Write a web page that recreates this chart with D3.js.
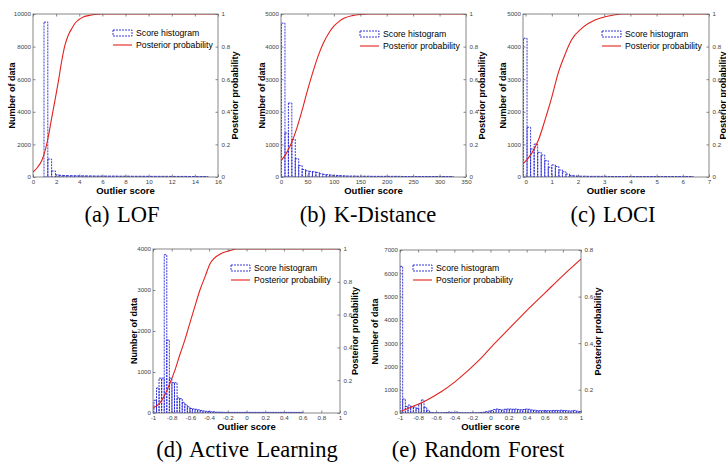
<!DOCTYPE html>
<html>
<head>
<meta charset="utf-8">
<script src="https://cdn.jsdelivr.net/npm/d3@7"></script>
<style>
body { margin: 0; background: #fff; }
svg text { font-family: "Liberation Sans", Arial, sans-serif; }
</style>
</head>
<body>
<svg id="chart" width="726" height="463"></svg>
<script>
// histogram counts per bin + posterior curve samples

// (a) LOF
var lofBinStart = 0.95, lofBinWidth = 0.33;
var lofCounts = [9500, 1100, 370, 130, 100, 90, 80, 80, 75, 70, 70, 65, 65, 60, 60,
	60, 55, 55, 55, 50, 50, 50, 50, 45, 45, 45, 45, 40, 40, 40, 40, 40, 40, 35, 35,
	35, 35, 35, 30, 30, 30, 30, 30];
var lofCurveScore = [0, 0.4, 0.75, 1.04, 1.33, 1.61, 1.9, 2.19, 2.48, 2.77, 3.05, 3.35, 3.65, 3.92, 4.35, 4.78, 5.3, 6, 16];
var lofCurveProb = [0.03, 0.06, 0.1, 0.16, 0.25, 0.36, 0.47, 0.585, 0.71, 0.81, 0.87, 0.91, 0.945, 0.963, 0.982, 0.99, 0.997, 1, 1];
var lofScoreTicks = [0, 2, 4, 6, 8, 10, 12, 14, 16];
var lofCountTicks = [0, 2000, 4000, 6000, 8000, 10000];

// (b) K-Distance
var kdBinStart = 1, kdBinWidth = 6.5;
var kdCounts = [4720, 1350, 2270, 1150, 560, 350, 230, 190, 170, 160, 140, 100, 80, 70, 60,
	50, 45, 40, 35, 30, 30, 30, 25, 25, 25, 25, 20, 20, 20, 20, 20, 20, 20, 20, 20,
	15, 15, 15, 15, 15, 15, 15, 15, 15, 15, 15, 15, 15, 15, 15];
var kdCurveScore = [0, 10, 20, 30, 40, 50, 60, 70, 80, 90, 100, 110, 120, 135, 150, 165, 350];
var kdCurveProb = [0.098, 0.145, 0.21, 0.3, 0.41, 0.53, 0.64, 0.74, 0.82, 0.88, 0.925, 0.955, 0.975, 0.99, 0.997, 1, 1];
var kdScoreTicks = [0, 50, 100, 150, 200, 250, 300, 350];
var kdCountTicks = [0, 1000, 2000, 3000, 4000, 5000];

// (c) LOCI
var lociBinStart = -0.08, lociBinWidth = 0.135;
var lociCounts = [4255, 1525, 860, 1010, 755, 675, 500, 300, 370, 320, 215, 160, 90, 50, 35,
	30, 25, 25, 20, 20, 20, 20, 20, 20, 15, 15, 15, 15, 15, 15, 15, 15, 15, 15, 15,
	15, 15, 15, 15, 15, 15, 15, 15, 15, 15, 15, 15, 15];
var lociCurveScore = [-0.1, 0.23, 0.49, 0.74, 1.0, 1.24, 1.5, 1.75, 2.13, 2.65, 3.0, 3.37, 3.7, 7];
var lociCurveProb = [0.08, 0.145, 0.227, 0.35, 0.49, 0.636, 0.75, 0.84, 0.91, 0.963, 0.982, 0.994, 1, 1];
var lociScoreTicks = [0, 1, 2, 3, 4, 5, 6, 7];
var lociCountTicks = [0, 1000, 2000, 3000, 4000, 5000];

// (d) Active Learning
var alBinStart = -0.99, alBinWidth = 0.0275;
var alCounts = [310, 610, 850, 850, 3860, 1780, 850, 740, 740, 370, 350, 260, 200, 150, 110,
	100, 90, 80, 60, 50, 40, 40, 30, 30, 20, 20, 20, 15, 15, 15, 15, 15, 15, 15, 15,
	15, 15, 15, 15, 15, 15, 15, 15, 15, 15, 15, 15, 15, 15, 15, 15, 15, 15, 15, 15,
	15, 15, 15];
var alCurveScore = [-1, -0.928, -0.874, -0.82, -0.766, -0.713, -0.659, -0.605, -0.552, -0.498, -0.444, -0.39, -0.28, -0.18, -0.1, 1];
var alCurveProb = [0.03, 0.06, 0.11, 0.18, 0.26, 0.355, 0.446, 0.55, 0.65, 0.75, 0.83, 0.91, 0.97, 0.99, 1, 1];
var alCountTicks = [0, 1000, 2000, 3000, 4000];

// (e) Random Forest
var rfBinStart = -1, rfBinWidth = 0.0295;
var rfCounts = [6300, 600, 280, 340, 270, 260, 200, 400, 560, 250, 120,
	30, 15, 10, 10, 10, 10, 20, 40, 30, 10, 40, 10, 10, 10, 10, 10, 10, 10, 10, 20, 30, 60,
	80, 110, 150, 170, 150, 130, 160, 170, 170, 160, 170, 150, 140, 150, 170, 160, 130, 120,
	100, 100, 100, 110, 100, 100, 110, 110, 100, 120, 110, 100, 90, 90, 110, 80, 60];
var rfCurveScore = [-1, -0.86, -0.72, -0.55, -0.39, -0.24, -0.08, 0, 0.2, 0.4, 0.6, 0.8, 1];
var rfCurveProb = [0.106, 0.128, 0.152, 0.19, 0.235, 0.285, 0.345, 0.38, 0.46, 0.54, 0.615, 0.69, 0.761];
var rfCountTicks = [0, 1000, 2000, 3000, 4000, 5000, 6000, 7000];
var rfProbTicks = [0.2, 0.4, 0.6, 0.8];

var signedScoreTicks = [-1, -0.8, -0.6, -0.4, -0.2, 0, 0.2, 0.4, 0.6, 0.8, 1];
var probTicks = [0, 0.2, 0.4, 0.6, 0.8, 1];

var BLUE = '#2323d6';
var RED = '#e3211c';
var FRAME = '#6a6a6a';
var TICK_TEXT = '#444';

var panels = [
	{ id: 'a', caption: '(a) LOF', left: 33, top: 14, width: 185, height: 163,
		scoreDomain: [0, 16], countDomain: [0, 10000], probDomain: [0, 1],
		binStart: lofBinStart, binWidth: lofBinWidth, counts: lofCounts,
		curveScore: lofCurveScore, curveProb: lofCurveProb,
		scoreTicks: lofScoreTicks, countTicks: lofCountTicks, probTicks: probTicks,
		yLabelOff: 21, pLabelOff: 17, legX: 80, legY: 19, capX: 122, capY: 222 },
	{ id: 'b', caption: '(b) K-Distance', left: 281, top: 14, width: 185, height: 163,
		scoreDomain: [0, 350], countDomain: [0, 5000], probDomain: [0, 1],
		binStart: kdBinStart, binWidth: kdBinWidth, counts: kdCounts,
		curveScore: kdCurveScore, curveProb: kdCurveProb,
		scoreTicks: kdScoreTicks, countTicks: kdCountTicks, probTicks: probTicks,
		yLabelOff: 19, pLabelOff: 16, legX: 79, legY: 20, capX: 368, capY: 222 },
	{ id: 'c', caption: '(c) LOCI', left: 523, top: 14, width: 186, height: 163,
		scoreDomain: [-0.1, 7], countDomain: [0, 5000], probDomain: [0, 1],
		binStart: lociBinStart, binWidth: lociBinWidth, counts: lociCounts,
		curveScore: lociCurveScore, curveProb: lociCurveProb,
		scoreTicks: lociScoreTicks, countTicks: lociCountTicks, probTicks: probTicks,
		yLabelOff: 20, pLabelOff: 14, legX: 79, legY: 20, capX: 613, capY: 222 },
	{ id: 'd', caption: '(d) Active Learning', left: 153, top: 249, width: 187, height: 164,
		scoreDomain: [-1, 1], countDomain: [0, 4000], probDomain: [0, 1],
		binStart: alBinStart, binWidth: alBinWidth, counts: alCounts,
		curveScore: alCurveScore, curveProb: alCurveProb,
		scoreTicks: signedScoreTicks, countTicks: alCountTicks, probTicks: probTicks,
		yLabelOff: 19, pLabelOff: 15, legX: 78, legY: 19, capX: 247, capY: 457 },
	{ id: 'e', caption: '(e) Random Forest', left: 400, top: 250, width: 181, height: 163,
		scoreDomain: [-1, 1], countDomain: [0, 7000], probDomain: [0.1, 0.8],
		binStart: rfBinStart, binWidth: rfBinWidth, counts: rfCounts,
		curveScore: rfCurveScore, curveProb: rfCurveProb,
		scoreTicks: signedScoreTicks, countTicks: rfCountTicks, probTicks: rfProbTicks,
		yLabelOff: 25, pLabelOff: 17, legX: 13, legY: 18, capX: 478, capY: 457 }
];

var svg = d3.select('#chart');

function fmtNum(v) {
	return String(+v.toFixed(2));
}

function styleAxis(sel) {
	sel.select('.domain').remove();
	sel.selectAll('.tick line').attr('stroke', FRAME).attr('stroke-width', 0.8);
	sel.selectAll('.tick text')
		.attr('fill', TICK_TEXT)
		.attr('font-size', '6.2px')
		.attr('font-family', '"Liberation Sans", Arial, sans-serif');
}

function drawPanel(p) {
	var g = svg.append('g').attr('transform', 'translate(' + p.left + ',' + p.top + ')');

	var x = d3.scaleLinear().domain(p.scoreDomain).range([0, p.width]);
	var y = d3.scaleLinear().domain(p.countDomain).range([p.height, 0]);
	var yp = d3.scaleLinear().domain(p.probDomain).range([p.height, 0]);

	var clipId = 'clip_' + p.id;
	g.append('clipPath').attr('id', clipId)
		.append('rect').attr('width', p.width).attr('height', p.height);

	var bins = p.counts.map(function (n, i) {
		return { lo: p.binStart + i * p.binWidth, hi: p.binStart + (i + 1) * p.binWidth, n: n };
	}).filter(function (d) { return d.n > 0; });

	g.append('g').attr('clip-path', 'url(#' + clipId + ')')
		.selectAll('rect').data(bins).join('rect')
		.attr('x', function (d) { return x(d.lo); })
		.attr('width', function (d) { return x(d.hi) - x(d.lo); })
		.attr('y', function (d) { return y(d.n); })
		.attr('height', function (d) { return p.height - y(d.n); })
		.attr('fill', 'none')
		.attr('stroke', BLUE)
		.attr('stroke-width', 0.9)
		.attr('stroke-dasharray', '2,1');

	var line = d3.line()
		.x(function (d) { return x(d[0]); })
		.y(function (d) { return yp(d[1]); })
		.curve(d3.curveMonotoneX);

	g.append('path')
		.attr('clip-path', 'url(#' + clipId + ')')
		.datum(d3.zip(p.curveScore, p.curveProb))
		.attr('d', line)
		.attr('fill', 'none')
		.attr('stroke', RED)
		.attr('stroke-width', 1.1);

	// box
	g.append('rect')
		.attr('width', p.width).attr('height', p.height)
		.attr('fill', 'none').attr('stroke', FRAME).attr('stroke-width', 0.8);

	// axes, MATLAB style ticks pointing inward
	g.append('g').attr('transform', 'translate(0,' + p.height + ')')
		.call(d3.axisBottom(x).tickValues(p.scoreTicks).tickFormat(fmtNum).tickSize(-2.5).tickPadding(3))
		.call(styleAxis);
	g.append('g')
		.call(d3.axisTop(x).tickValues(p.scoreTicks).tickFormat('').tickSize(-2.5))
		.call(styleAxis);
	g.append('g')
		.call(d3.axisLeft(y).tickValues(p.countTicks).tickFormat(d3.format('d')).tickSize(-2.5).tickPadding(2))
		.call(styleAxis);
	g.append('g').attr('transform', 'translate(' + p.width + ',0)')
		.call(d3.axisRight(yp).tickValues(p.probTicks).tickFormat(fmtNum).tickSize(-2.5).tickPadding(3.5))
		.call(styleAxis);

	// axis titles
	g.append('text')
		.attr('transform', 'translate(' + (-p.yLabelOff) + ',' + (p.height / 2) + ') rotate(-90)')
		.attr('text-anchor', 'middle').attr('dy', '0.35em')
		.attr('font-size', '9px').attr('font-weight', 'bold')
		.text('Number of data');
	g.append('text')
		.attr('transform', 'translate(' + (p.width + p.pLabelOff) + ',' + (p.height / 2) + ') rotate(-90)')
		.attr('text-anchor', 'middle').attr('dy', '0.35em')
		.attr('font-size', '9px').attr('font-weight', 'bold')
		.text('Posterior probability');
	g.append('text')
		.attr('x', p.width / 2).attr('y', p.height + 14)
		.attr('text-anchor', 'middle').attr('dy', '0.35em')
		.attr('font-size', '9.5px').attr('font-weight', 'bold')
		.text('Outlier score');

	// legend
	var leg = g.append('g').attr('transform', 'translate(' + p.legX + ',' + p.legY + ')');
	leg.append('rect')
		.attr('x', 0).attr('y', -3).attr('width', 19).attr('height', 6)
		.attr('fill', 'none').attr('stroke', BLUE).attr('stroke-width', 0.9)
		.attr('stroke-dasharray', '2,1');
	leg.append('text').attr('x', 23).attr('y', 0).attr('dy', '0.35em')
		.attr('font-size', '8.7px').text('Score histogram');
	leg.append('line')
		.attr('x1', 0).attr('x2', 19).attr('y1', 12).attr('y2', 12)
		.attr('stroke', RED).attr('stroke-width', 1.1);
	leg.append('text').attr('x', 23).attr('y', 12).attr('dy', '0.35em')
		.attr('font-size', '8.7px').text('Posterior probability');

	// sub-figure caption
	svg.append('text')
		.attr('x', p.capX).attr('y', p.capY)
		.attr('text-anchor', 'middle')
		.style('font-family', '"Liberation Serif", "Times New Roman", serif')
		.style('word-spacing', '2px')
		.attr('font-size', '22.5px')
		.text(p.caption);
}

panels.forEach(drawPanel);
</script>
</body>
</html>
